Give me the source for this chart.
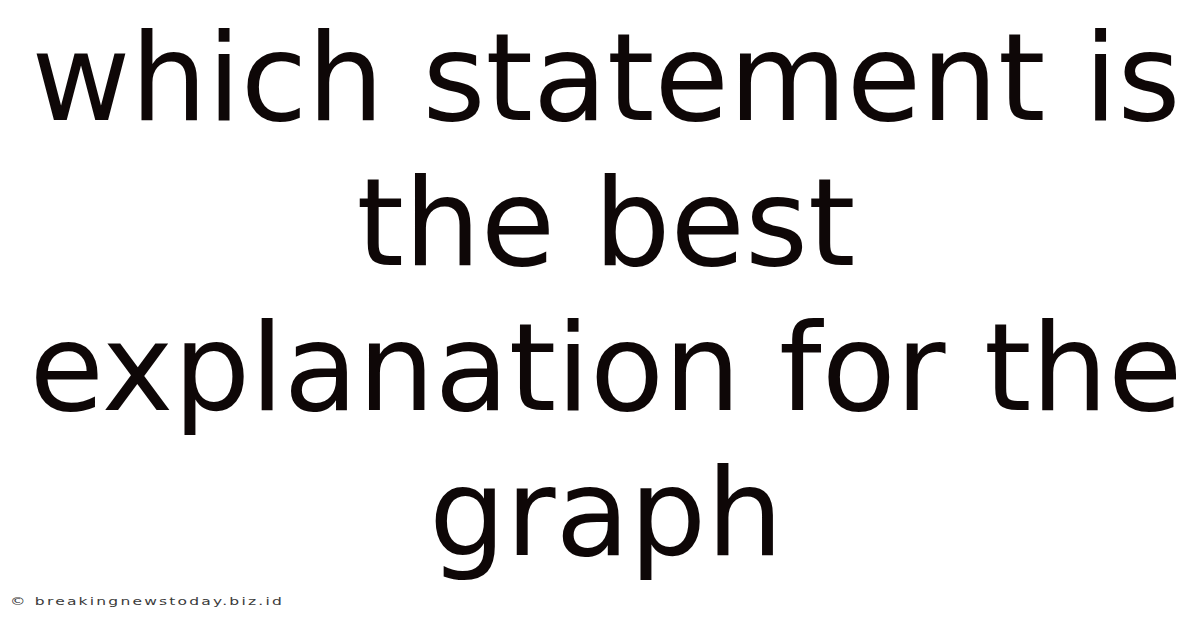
import React from "react";

const titleLines: string[] = ["which statement is", "the best", "explanation for the", "graph"];
const watermark = "© breakingnewstoday.biz.id";

const W = 1200;
const H = 628;

export default function App() {
  const baseY = 120;
  const lineGap = 145;
  return (
    <svg width={W} height={H} style={{ position: "absolute", left: 0, top: 0, background: "#fff" }}>
      <rect width={W} height={H} fill="#ffffff" />
      {titleLines.map((t, i) => (
        <text
          key={i}
          x={606}
          y={baseY + i * lineGap}
          textAnchor="middle"
          fontFamily="DejaVu Sans"
          fontSize={121}
          fill="#0e0707"
        >
          {t}
        </text>
      ))}
      <text
        x={10}
        y={605}
        fontFamily="DejaVu Sans"
        fontSize={10.5}
        letterSpacing={1.5}
        textLength={274}
        lengthAdjust="spacingAndGlyphs"
        fill="#3a3a3a"
      >
        {watermark}
      </text>
    </svg>
  );
}
